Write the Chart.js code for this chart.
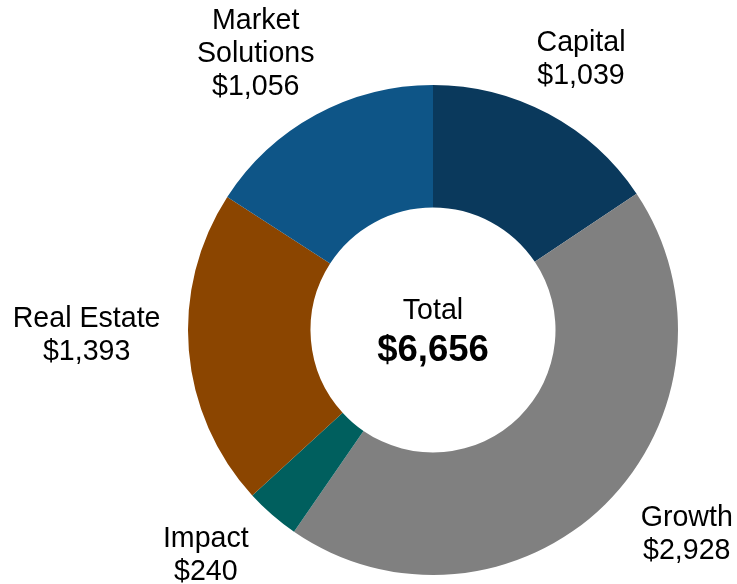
<!DOCTYPE html>
<html>
<head>
<meta charset="utf-8">
<script src="https://cdn.jsdelivr.net/npm/chart.js@4/dist/chart.umd.min.js"></script>
<style>
html,body{margin:0;padding:0;background:#fff;}
#wrap{width:737px;height:584px;position:relative;}
</style>
</head>
<body>
<div id="wrap"><canvas id="c" width="737" height="584"></canvas></div>
<script>
const categories = ["Capital", "Growth", "Impact", "Real Estate", "Market Solutions"];
const values = [1039, 2928, 240, 1393, 1056];
const valueLabels = ["$1,039", "$2,928", "$240", "$1,393", "$1,056"];
const totalLabel = "$6,656";
const colors = ["#0A395C", "#808080", "#005F5E", "#8B4500", "#0E5587"];

// label text lines (category names split as in the picture)
const nameLines = [["Capital"], ["Growth"], ["Impact"], ["Real Estate"], ["Market", "Solutions"]];
// small nudges from the computed arc anchor (style only)
const nudges = [[-2, 11], [30, -22], [-18, -15], [-29, -21], [-25, 4]];

const FONT = "'Liberation Sans', Arial, sans-serif";

const labelPlugin = {
  id: 'outerLabels',
  afterDatasetsDraw(chart) {
    const ctx = chart.ctx;
    const meta = chart.getDatasetMeta(0);
    ctx.save();
    ctx.fillStyle = '#000';
    ctx.textAlign = 'center';
    ctx.textBaseline = 'middle';
    ctx.font = "28.6px " + FONT;
    const lh = 33;
    meta.data.forEach((arc, i) => {
      const p = arc.getProps(['x', 'y', 'startAngle', 'endAngle', 'outerRadius'], true);
      const mid = (p.startAngle + p.endAngle) / 2;
      const r = p.outerRadius * 1.3;
      const ax = p.x + Math.cos(mid) * r + nudges[i][0];
      const ay = p.y + Math.sin(mid) * r + nudges[i][1];
      const lines = nameLines[i].concat([valueLabels[i]]);
      const n = lines.length;
      lines.forEach((t, k) => {
        ctx.fillText(t, ax, ay + (k - (n - 1) / 2) * lh);
      });
    });
    // center text
    const a0 = meta.data[0];
    const cx = a0.x, cy = a0.y;
    ctx.font = "28.6px " + FONT;
    ctx.fillText("Total", cx, cy - 19);
    ctx.font = "bold 36.5px " + FONT;
    ctx.fillText(totalLabel, cx, cy + 21);
    ctx.restore();
  }
};

new Chart(document.getElementById('c'), {
  type: 'doughnut',
  data: {
    labels: categories,
    datasets: [{
      data: values,
      backgroundColor: colors,
      borderWidth: 0,
      hoverOffset: 0
    }]
  },
  options: {
    responsive: false,
    animation: false,
    cutout: '50%',
    layout: { padding: { top: 85, bottom: 9, left: 188, right: 59 } },
    plugins: {
      legend: { display: false },
      tooltip: { enabled: false }
    }
  },
  plugins: [labelPlugin]
});
</script>
</body>
</html>
